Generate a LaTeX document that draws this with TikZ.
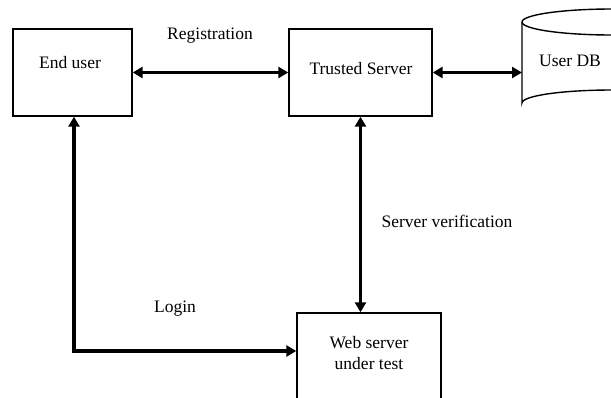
\documentclass[tikz,border=0pt]{standalone}
\usepackage{fontspec}
\setmainfont{Liberation Serif}
\usetikzlibrary{arrows.meta}
\begin{document}
\begin{tikzpicture}[x=1pt,y=-1pt,
  box/.style={draw=black, line width=1.4pt, rectangle, inner sep=0pt},
  lbl/.style={font=\fontsize{17.5}{21}\selectfont, inner sep=0pt, align=center},
  link/.style={line width=3.3pt, {Triangle[length=10pt,width=11pt]}-{Triangle[length=10pt,width=11pt]}}]
\useasboundingbox (0,0) rectangle (611,397);
\clip (0,0) rectangle (611,397);

% boxes
\node[box, minimum width=119pt, minimum height=87pt] (eu) at (72.5,72.5) {};
\node[box, minimum width=143pt, minimum height=87pt] (ts) at (360.5,72.5) {};
\node[box, minimum width=144pt, minimum height=120pt] (ws) at (369,373) {};

% database cylinder
\coordinate (db) at (522,72.5);
\draw[line width=1.4pt] (522,22) -- (522,103)
  arc[start angle=180, end angle=360, x radius=90, y radius=13]
  -- (702,22);
\draw[line width=1.4pt] (612,22) ellipse[x radius=90, y radius=13];

% texts
\node[lbl] (teu) at (70,63) {End user};
\node[lbl] (tts) at (361,69) {Trusted Server};
\node[lbl] (tdb) at (570,61) {User DB};
\node[lbl] (tws) at (369,353) {Web server\\under test};
\node[lbl] (treg) at (210,36) {Registration};
\node[lbl] (tsv) at (447,221) {Server verification};
\node[lbl] (tlog) at (175,309) {Login};

% connectors
\draw[link] (eu.east) -- (ts.west);
\draw[link] (ts.east) -- (db);
\draw[link] (ts.south) -- (ts.south |- ws.north);
\coordinate (corner) at ([xshift=1.5pt]eu.south |- 0,351);
\draw[link] ([xshift=1.5pt]eu.south) -- (corner) -- (corner -| ws.west);
\end{tikzpicture}
\end{document}
